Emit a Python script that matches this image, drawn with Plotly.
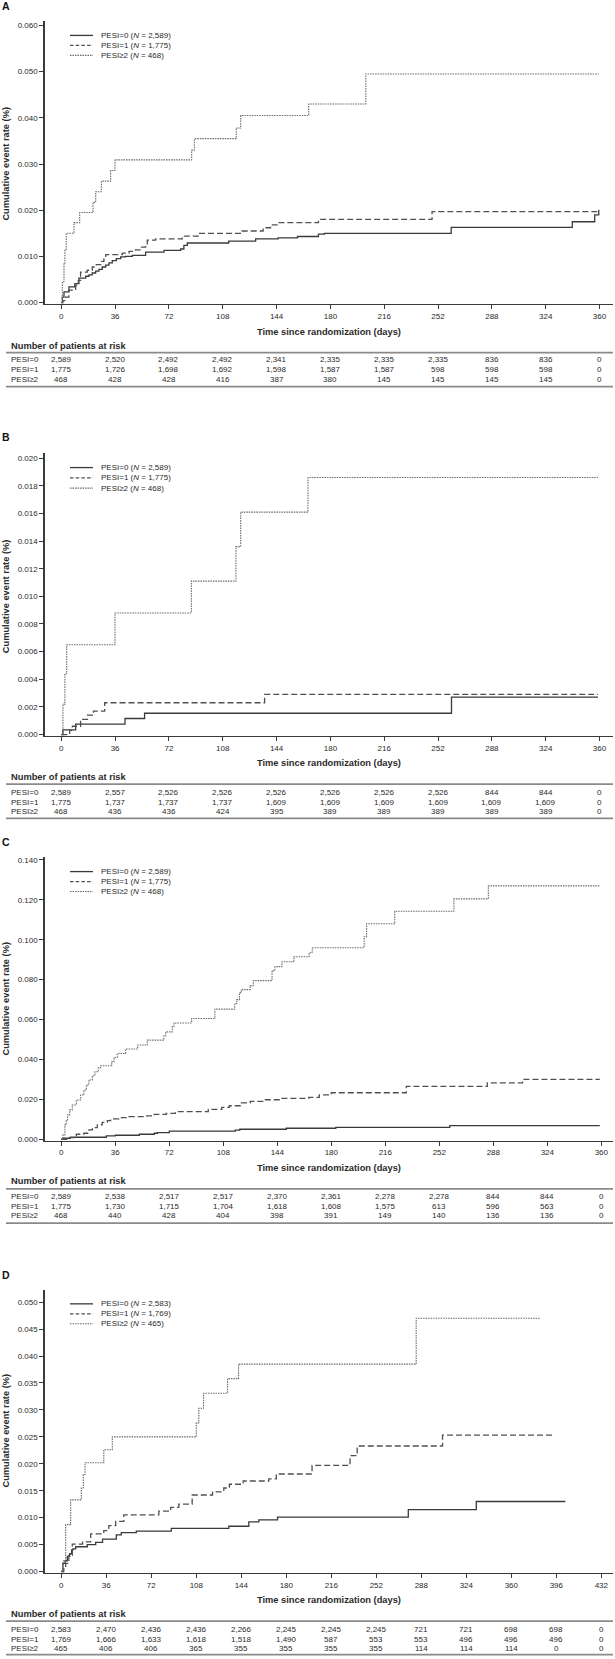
import plotly.graph_objects as go

W, H = 615, 1659

# ---------------- data ----------------
SERIES_NAMES = ["PESI=0", "PESI=1", "PESI\u22652"]
N_ABC = ["2,589", "1,775", "468"]
N_D = ["2,583", "1,769", "465"]

X_TICKS_360 = [0, 36, 72, 108, 144, 180, 216, 252, 288, 324, 360]
X_TICKS_432 = [0, 36, 72, 108, 144, 180, 216, 252, 288, 324, 360, 396, 432]
Y_TICKS_A = [0.000, 0.010, 0.020, 0.030, 0.040, 0.050, 0.060]
Y_TICKS_B = [0.000, 0.002, 0.004, 0.006, 0.008, 0.010, 0.012, 0.014, 0.016, 0.018, 0.020]
Y_TICKS_C = [0.000, 0.020, 0.040, 0.060, 0.080, 0.100, 0.120, 0.140]
Y_TICKS_D = [0.000, 0.005, 0.010, 0.015, 0.020, 0.025, 0.030, 0.035, 0.040, 0.045, 0.050]

# Panel A
A0_t = [0, 0.7, 1.8, 5.1, 9.1, 11.8, 16.3, 18.5, 20.7, 23, 25.2, 27.4, 29.7, 31.9, 34.1, 36.8, 39.7, 43,
        47.5, 56.4, 68.7, 79.8, 82, 84.3, 112, 130, 145, 158, 172, 176, 260.8, 341.8, 356.8, 359.5]
A0_v = [0, 0.0012, 0.0023, 0.0034, 0.0041, 0.0053, 0.0057, 0.0060, 0.0064, 0.0068, 0.0072, 0.0077, 0.0081,
        0.0086, 0.0091, 0.0095, 0.0099, 0.0100, 0.0102, 0.0109, 0.0113, 0.0116, 0.0124, 0.0129, 0.0133,
        0.0138, 0.0140, 0.0143, 0.0148, 0.0150, 0.0163, 0.0175, 0.0190, 0.0201]
A1_t = [0, 1.1, 2.9, 5.1, 9.6, 11.4, 12.9, 17.4, 20.7, 23.4, 26.3, 28.5, 29.7, 40.8, 45.3, 49.7, 53.1, 56.4,
        57.5, 63.1, 80.9, 92, 121, 135, 140, 145, 172, 248, 359.5]
A1_v = [0, 0.0004, 0.0012, 0.0027, 0.0037, 0.0048, 0.0066, 0.0070, 0.0077, 0.0082, 0.0089, 0.0100, 0.0104,
        0.0107, 0.0111, 0.0114, 0.0120, 0.0124, 0.0135, 0.0138, 0.0144, 0.0150, 0.0155, 0.0162, 0.0168,
        0.0173, 0.0180, 0.0197, 0.0200]
A2_t = [0, 0.7, 1.8, 2.4, 3.3, 8.5, 12.3, 21.2, 23, 26.8, 33, 35.9, 87.2, 89, 117, 120, 165.5, 203.7, 359.5]
A2_v = [0, 0.0045, 0.0084, 0.0113, 0.0150, 0.0173, 0.0195, 0.0217, 0.0240, 0.0263, 0.0286, 0.0309, 0.0330,
        0.0355, 0.0378, 0.0405, 0.0430, 0.0495, 0.0495]

# Panel B
B0_t = [0, 1.1, 9.6, 42.6, 55.7, 261, 359]
B0_v = [0, 0.00034, 0.00075, 0.00116, 0.00154, 0.0027, 0.0027]
B1_t = [0, 5.6, 7.4, 12.9, 17.5, 21.5, 29, 136, 359]
B1_v = [0, 0.0003, 0.0006, 0.0011, 0.0014, 0.0017, 0.0023, 0.0029, 0.0029]
B2_t = [0, 1.1, 2.4, 3.6, 35.9, 87, 116.8, 120, 165, 359]
B2_v = [0, 0.0022, 0.0044, 0.0065, 0.0088, 0.0111, 0.0136, 0.0161, 0.0186, 0.0186]

# Panel C
C0_t = [0, 1.1, 6, 30, 36, 52, 62, 64, 72, 116, 119, 150, 183, 259, 359]
C0_v = [0, 0.0005, 0.0010, 0.0017, 0.0020, 0.0025, 0.0030, 0.0033, 0.0041, 0.0046, 0.0050, 0.0055, 0.0060,
        0.0068, 0.0068]
C1_t = [0, 4, 10, 15, 18.4, 20.7, 24, 27.3, 30.7, 32.9, 38.4, 45, 56, 62, 70, 76, 98, 107, 112, 120, 126,
        136, 146, 165, 172, 180, 230, 284, 307.5, 359]
C1_v = [0, 0.0008, 0.0025, 0.0030, 0.0047, 0.0058, 0.0072, 0.0085, 0.0093, 0.0102, 0.0108, 0.0113, 0.0117,
        0.0125, 0.0130, 0.0138, 0.0150, 0.0160, 0.0168, 0.0182, 0.0190, 0.0198, 0.0205, 0.0210, 0.0222,
        0.0233, 0.0265, 0.0283, 0.0300, 0.0300]
C2_t = [0, 1.1, 2.4, 3.3, 4.2, 5.6, 7.3, 10, 12.9, 15.1, 16.7, 18.4, 20.7, 22.4, 24.7, 26.2, 33.6, 35.1,
        37.3, 42.9, 50.9, 57.3, 68.4, 69.6, 74, 75.1, 86.9, 102.4, 115.6, 117, 118.8, 120, 125.9, 128,
        140.5, 142.4, 147.1, 155, 165.2, 167.3, 201.9, 203.5, 222.3, 261.7, 284.7, 358.7]
C2_v = [0, 0.0022, 0.0072, 0.0097, 0.0122, 0.0147, 0.0172, 0.0197, 0.0222, 0.0247, 0.0272, 0.0297, 0.0318,
        0.0338, 0.0358, 0.0368, 0.0388, 0.0410, 0.0430, 0.0452, 0.0472, 0.0497, 0.0518, 0.0538, 0.0563,
        0.0583, 0.0605, 0.0652, 0.0680, 0.0700, 0.0735, 0.0750, 0.0770, 0.0795, 0.0845, 0.0865, 0.0890,
        0.0915, 0.0935, 0.0960, 0.1015, 0.1080, 0.1143, 0.1205, 0.1270, 0.1270]

# Panel D
D0_t = [0, 1.3, 3, 4.8, 6.7, 8.3, 9.3, 11.5, 20.8, 27.5, 33, 44, 48, 60, 88, 134, 150, 158, 173, 277.6,
        332, 403.3]
D0_v = [0, 0.0015, 0.0020, 0.0028, 0.0033, 0.0040, 0.0042, 0.0046, 0.0050, 0.0054, 0.0060, 0.0068, 0.0072,
        0.0075, 0.0080, 0.0084, 0.0092, 0.0096, 0.0101, 0.0115, 0.0130, 0.0130]
D1_t = [0, 2, 3.5, 6, 8.8, 17, 23.5, 34, 38, 43.5, 50, 78, 87.5, 94, 104.7, 121, 130, 134.5, 145.5, 166,
        172, 200.6, 231, 236.7, 305, 394]
D1_v = [0, 0.0008, 0.0015, 0.0030, 0.0051, 0.0055, 0.0070, 0.0076, 0.0085, 0.0093, 0.0105, 0.0112, 0.0119,
        0.0125, 0.0142, 0.0148, 0.0155, 0.0162, 0.0168, 0.0172, 0.0181, 0.0197, 0.0215, 0.0233, 0.0253,
        0.0253]
D2_t = [0, 1.3, 3.5, 7.5, 16, 17.6, 19, 34, 40.8, 108, 110, 113.8, 133, 141.8, 283.9, 382.9]
D2_v = [0, 0.0020, 0.0087, 0.0133, 0.0155, 0.0180, 0.0202, 0.0226, 0.0250, 0.0276, 0.0303, 0.0331, 0.0358,
        0.0385, 0.0470, 0.0470]

# Numbers at risk
A_RISK = [["2,589", "2,520", "2,492", "2,492", "2,341", "2,335", "2,335", "2,335", "836", "836", "0"],
          ["1,775", "1,726", "1,698", "1,692", "1,598", "1,587", "1,587", "598", "598", "598", "0"],
          ["468", "428", "428", "416", "387", "380", "145", "145", "145", "145", "0"]]
B_RISK = [["2,589", "2,557", "2,526", "2,526", "2,526", "2,526", "2,526", "2,526", "844", "844", "0"],
          ["1,775", "1,737", "1,737", "1,737", "1,609", "1,609", "1,609", "1,609", "1,609", "1,609", "0"],
          ["468", "436", "436", "424", "395", "389", "389", "389", "389", "389", "0"]]
C_RISK = [["2,589", "2,538", "2,517", "2,517", "2,370", "2,361", "2,278", "2,278", "844", "844", "0"],
          ["1,775", "1,730", "1,715", "1,704", "1,618", "1,608", "1,575", "613", "596", "563", "0"],
          ["468", "440", "428", "404", "398", "391", "149", "140", "136", "136", "0"]]
D_RISK = [["2,583", "2,470", "2,436", "2,436", "2,266", "2,245", "2,245", "2,245", "721", "721", "698", "698", "0"],
          ["1,769", "1,666", "1,633", "1,618", "1,518", "1,490", "587", "553", "553", "496", "496", "496", "0"],
          ["465", "406", "406", "365", "355", "355", "355", "355", "114", "114", "114", "0", "0"]]

# ---------------- layout (pixel geometry) ----------------
FONT = "Liberation Sans, Arial, Helvetica, sans-serif"
TXT = "#2a2a2a"
AXC = "#3a3a3a"
XL, XR = 44.5, 613.0
STYLES = [dict(color="#3a3a3a", width=1.3, dash="solid"),
          dict(color="#505050", width=1.3, dash="6px,3px"),
          dict(color="#6a6a6a", width=1.1, dash="1.5px,1px")]
LEG_DASH = ["solid", "3.5px,2.2px", "1.5px,1px"]

panels = [
    dict(letter="A", series=[(A0_t, A0_v), (A1_t, A1_v), (A2_t, A2_v)], ns=N_ABC, risk=A_RISK,
         xt=X_TICKS_360, yt=Y_TICKS_A, ytop=20, ybot=304, y0=302.3, ysc=46.3 / 0.01, x0=61.3, xsc=1.495,
         let_y=5, yt_y=163, leg=[34.5, 44.5, 54.5], xtitle=332, npr=346, top=352.5,
         rows=[359.5, 369.5, 379.3], bot=386.5),
    dict(letter="B", series=[(B0_t, B0_v), (B1_t, B1_v), (B2_t, B2_v)], ns=N_ABC, risk=B_RISK,
         xt=X_TICKS_360, yt=Y_TICKS_B, ytop=452.7, ybot=736.7, y0=735.3, ysc=277 / 0.02, x0=61.3, xsc=1.495,
         let_y=437, yt_y=596.7, leg=[467.7, 478, 488.3], xtitle=764.3, npr=778.3, top=785,
         rows=[793.3, 803.3, 812.7], bot=819.3),
    dict(letter="C", series=[(C0_t, C0_v), (C1_t, C1_v), (C2_t, C2_v)], ns=N_ABC, risk=C_RISK,
         xt=X_TICKS_360, yt=Y_TICKS_C, ytop=857.7, ybot=1142.3, y0=1141, ysc=280 / 0.14, x0=61.3, xsc=1.5,
         let_y=842.7, yt_y=1000, leg=[872.7, 882.7, 892.7], xtitle=1170, npr=1183.3, top=1190.7,
         rows=[1198.3, 1208.3, 1217.7], bot=1225),
    dict(letter="D", series=[(D0_t, D0_v), (D1_t, D1_v), (D2_t, D2_v)], ns=N_D, risk=D_RISK,
         xt=X_TICKS_432, yt=Y_TICKS_D, ytop=1291.7, ybot=1575.7, y0=1574.3, ysc=27 / 0.005, x0=61.3, xsc=1.25,
         let_y=1276.7, yt_y=1433, leg=[1306, 1316, 1326], xtitle=1603.3, npr=1616.7, top=1624,
         rows=[1632.3, 1642.3, 1651.7], bot=1657.7),
]


def fy(px):
    return 1 - px / H


def fx(px):
    return px / W


fig = go.Figure()
annotations = []
shapes = []
layout_axes = {}

for i, p in enumerate(panels):
    k = "" if i == 0 else str(i + 1)
    xa, ya = "x" + k, "y" + k
    for j, (t, v) in enumerate(p["series"]):
        fig.add_trace(go.Scatter(x=t, y=v, mode="lines", line=dict(shape="hv", **STYLES[j]),
                                 xaxis=xa, yaxis=ya, showlegend=False, hoverinfo="skip"))
    xr = [(XL - p["x0"]) / p["xsc"], (XR - p["x0"]) / p["xsc"]]
    yr = [(p["y0"] - p["ybot"]) / p["ysc"], (p["y0"] - p["ytop"]) / p["ysc"]]
    layout_axes["xaxis" + k] = dict(domain=[fx(XL), fx(XR)], range=xr, anchor=ya, tickvals=p["xt"],
                                    ticks="outside", ticklen=4, tickwidth=1, tickcolor=AXC,
                                    showline=True, linecolor=AXC, linewidth=1.2, showgrid=False,
                                    zeroline=False, fixedrange=True,
                                    tickfont=dict(size=8, color=TXT, family=FONT))
    layout_axes["yaxis" + k] = dict(domain=[fy(p["ybot"]), fy(p["ytop"])], range=yr, anchor=xa,
                                    tickvals=p["yt"], tickformat=".3f", ticks="outside", ticklen=4,
                                    tickwidth=1, tickcolor=AXC, showline=True, linecolor=AXC,
                                    linewidth=1.2, showgrid=False, zeroline=False, fixedrange=True,
                                    tickfont=dict(size=8, color=TXT, family=FONT))
    # panel letter
    annotations.append(dict(text="<b>%s</b>" % p["letter"], xref="paper", yref="paper", x=0, y=fy(p["let_y"]),
                            xanchor="left", yanchor="middle", showarrow=False,
                            font=dict(size=10.5, color="#111", family=FONT)))
    # y title
    annotations.append(dict(text="<b>Cumulative event rate (%)</b>", xref="paper", yref="paper", x=fx(6),
                            y=fy(p["yt_y"]), xanchor="center", yanchor="middle", textangle=-90,
                            showarrow=False, font=dict(size=9.3, color=TXT, family=FONT)))
    # x title
    annotations.append(dict(text="<b>Time since randomization (days)</b>", xref="paper", yref="paper",
                            x=fx((XL + XR) / 2), y=fy(p["xtitle"]), xanchor="center", yanchor="middle",
                            showarrow=False, font=dict(size=9.3, color=TXT, family=FONT)))
    # legend
    for j in range(3):
        yy = fy(p["leg"][j])
        shapes.append(dict(type="line", xref="paper", yref="paper", x0=fx(70), x1=fx(93), y0=yy, y1=yy,
                           line=dict(color=STYLES[j]["color"], width=STYLES[j]["width"], dash=LEG_DASH[j])))
        annotations.append(dict(text="%s (<i>N</i> = %s)" % (SERIES_NAMES[j], p["ns"][j]), xref="paper",
                                yref="paper", x=fx(99), y=yy, xanchor="left", yanchor="middle",
                                showarrow=False, font=dict(size=8, color=TXT, family=FONT)))
    # risk table
    annotations.append(dict(text="<b>Number of patients at risk</b>", xref="paper", yref="paper", x=fx(9),
                            y=fy(p["npr"]), xanchor="left", yanchor="middle", showarrow=False,
                            font=dict(size=9.3, color=TXT, family=FONT)))
    for yline in (p["top"], p["bot"]):
        shapes.append(dict(type="line", xref="paper", yref="paper", x0=fx(6), x1=fx(XR), y0=fy(yline),
                           y1=fy(yline), line=dict(color="#8a8a8a", width=1.8)))
    for j in range(3):
        yy = fy(p["rows"][j])
        annotations.append(dict(text=SERIES_NAMES[j], xref="paper", yref="paper", x=fx(9), y=yy,
                                xanchor="left", yanchor="middle", showarrow=False,
                                font=dict(size=8, color=TXT, family=FONT)))
        for tv, val in zip(p["xt"], p["risk"][j]):
            annotations.append(dict(text=val, xref=xa, yref="paper", x=tv, y=yy, xanchor="center",
                                    yanchor="middle", showarrow=False,
                                    font=dict(size=8, color=TXT, family=FONT)))

fig.update_layout(width=W, height=H, margin=dict(l=0, r=0, t=0, b=0), paper_bgcolor="white",
                  plot_bgcolor="white", showlegend=False, annotations=annotations, shapes=shapes,
                  font=dict(family=FONT, color=TXT), hovermode=False, dragmode=False, **layout_axes)

fig.write_html("out.html", config={"displayModeBar": False, "staticPlot": True},
               post_script="document.body.style.margin='0px';document.body.style.overflow='hidden';")
